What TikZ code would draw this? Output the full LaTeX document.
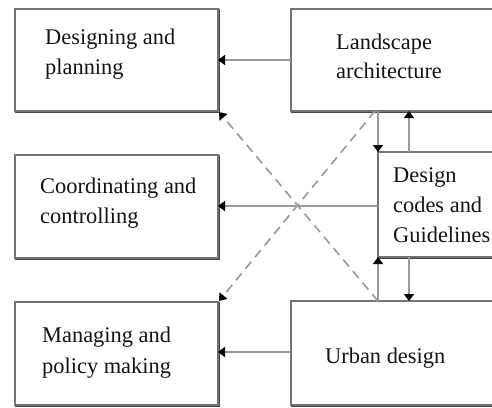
\documentclass[tikz,border=0pt]{standalone}
\usepackage{fontspec}
\setmainfont{Liberation Serif}
\usetikzlibrary{arrows.meta,calc}
\begin{document}
\begin{tikzpicture}[x=1pt,y=-1pt,
  box/.style={rectangle, anchor=north west, inner sep=0pt, outer sep=0pt,
    fill=white, draw=black!55, line width=1.6pt,
    preaction={draw=black!72, line width=2pt, transform canvas={shift={(1.4pt,-1.4pt)}}}},
  lbl/.style={anchor=base west, inner sep=0pt, font=\fontsize{22.4}{29}\selectfont, text=black!92},
  conn/.style={draw=black!40, line width=1.7pt, -{Triangle[length=7pt,width=10pt,color=black]}},
  dconn/.style={draw=black!38, line width=1.7pt, dash pattern=on 9pt off 6pt, -{Triangle[length=7pt,width=10pt,color=black]}}]
\useasboundingbox (0,0) rectangle (492,407);
\clip (0,0) rectangle (492,407);
\fill[white] (0,0) rectangle (492,407);
% boxes
\node[box, minimum width=203pt, minimum height=102pt] (A) at (15,9) {};
\node[box, minimum width=220pt, minimum height=102pt] (B) at (291,9) {};
\node[box, minimum width=203pt, minimum height=103pt] (C) at (15,155) {};
\node[box, minimum width=130pt, minimum height=105pt] (D) at (378,152) {};
\node[box, minimum width=203pt, minimum height=103pt] (E) at (15,302) {};
\node[box, minimum width=220pt, minimum height=104pt] (F) at (291,301) {};
% texts
\node[lbl] (a1) at (45,44) {Designing and};
\node[lbl] (a2) at (45,74) {planning};
\node[lbl] (b1) at (336,49) {Landscape};
\node[lbl] (b2) at (336,78) {architecture};
\node[lbl] (c1) at (40,193) {Coordinating and};
\node[lbl] (c2) at (40,223) {controlling};
\node[lbl] (d1) at (393,182) {Design};
\node[lbl] (d2) at (393,212) {codes and};
\node[lbl] (d3) at (393,242) {Guidelines};
\node[lbl] (e1) at (42,342) {Managing and};
\node[lbl] (e2) at (42,373) {policy making};
\node[lbl] (f1) at (325,363) {Urban design};
% helper coordinates
\coordinate (bx1) at ($(B.south west)+(87,0)$);
\coordinate (bx2) at ($(B.south west)+(118,0)$);
\coordinate (dx1) at (D.north west);
\coordinate (dx2) at ($(D.north west)+(31,0)$);
\coordinate (dx3) at (D.south west);
\coordinate (dx4) at ($(D.south west)+(31,0)$);
\coordinate (fx1) at ($(F.north west)+(87,0)$);
\coordinate (fx2) at ($(F.north west)+(118,0)$);
% horizontal connectors
\draw[conn] (B.west |- 0,60) -- (A.east |- 0,60);
\draw[conn] (D.west |- 0,206) -- (C.east |- 0,206);
\draw[conn] (F.west |- 0,352) -- (E.east |- 0,352);
% vertical connectors
\draw[conn] (bx1) -- (dx1);
\draw[conn] (dx2) -- (bx2);
\draw[conn] (fx1) -- (dx3);
\draw[conn] (dx4) -- (fx2);
% dashed diagonals
\draw[dconn] (fx1) -- ($(A.south east)+(1,1)$);
\draw[dconn] ($(bx1)+(-3,0)$) -- ($(E.north east)+(1,-1)$);
\end{tikzpicture}
\end{document}
